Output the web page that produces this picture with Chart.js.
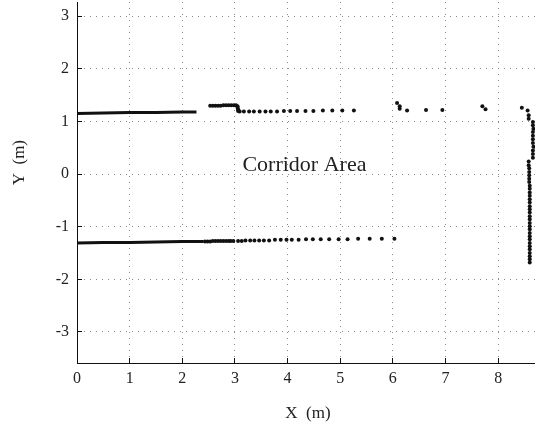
<!DOCTYPE html>
<html>
<head>
<meta charset="utf-8">
<script src="https://cdn.jsdelivr.net/npm/chart.js@4"></script>
<style>
  html, body { margin: 0; padding: 0; background: #fff; }
  #wrap { width: 535px; height: 430px; }
</style>
</head>
<body>
<div id="wrap"><canvas id="scan" width="535" height="430"></canvas></div>
<script>
// tick labels
const xTicks = [0, 1, 2, 3, 4, 5, 6, 7, 8];
const yTicks = [-3, -2, -1, 0, 1, 2, 3];

// upper wall, dense part (drawn as a thick trace)
const topDenseX = [0, 0.5, 1.0, 1.5, 2.0, 2.27];
const topDenseY = [1.15, 1.16, 1.17, 1.17, 1.18, 1.18];

// upper wall, step near x = 3
const topStepX = [2.53, 2.58, 2.63, 2.68, 2.73, 2.78, 2.83, 2.88, 2.93, 2.98, 3.02, 3.05, 3.05, 3.06, 3.06];
const topStepY = [1.30, 1.30, 1.30, 1.30, 1.30, 1.31, 1.31, 1.31, 1.31, 1.31, 1.31, 1.29, 1.26, 1.23, 1.20];

// upper wall, sparse returns
const topSparseX = [3.09, 3.17, 3.27, 3.36, 3.47, 3.58, 3.68, 3.80, 3.93, 4.05, 4.18, 4.34, 4.49, 4.67, 4.85, 5.04, 5.26];
const topSparseY = [1.19, 1.19, 1.19, 1.19, 1.19, 1.19, 1.19, 1.19, 1.20, 1.20, 1.20, 1.20, 1.20, 1.21, 1.21, 1.21, 1.21];

// far returns along the upper side
const topFarX = [6.08, 6.13, 6.13, 6.27, 6.63, 6.94, 7.70, 7.76, 8.45, 8.56, 8.58, 8.58];
const topFarY = [1.35, 1.29, 1.24, 1.21, 1.22, 1.22, 1.29, 1.23, 1.26, 1.21, 1.12, 1.05];

// end wall, upper column
const endUpperX = [8.66, 8.66, 8.67, 8.66, 8.66, 8.66, 8.66, 8.67, 8.66, 8.66, 8.66];
const endUpperY = [0.99, 0.93, 0.86, 0.80, 0.73, 0.66, 0.59, 0.52, 0.45, 0.38, 0.31];

// end wall, lower column
const endLowerX = [8.58, 8.58, 8.59, 8.59, 8.59, 8.59, 8.59, 8.60, 8.60, 8.60, 8.60, 8.60, 8.60, 8.60, 8.60, 8.60,
                   8.60, 8.60, 8.60, 8.60, 8.60, 8.60, 8.60, 8.60, 8.60, 8.60, 8.60, 8.60, 8.60, 8.60, 8.60];
const endLowerY = [0.24, 0.17, 0.11, 0.04, -0.02, -0.09, -0.15, -0.22, -0.28, -0.35, -0.41, -0.48, -0.54, -0.61, -0.67, -0.73,
                   -0.80, -0.86, -0.93, -0.99, -1.05, -1.12, -1.18, -1.24, -1.31, -1.37, -1.43, -1.50, -1.56, -1.62, -1.68];

// lower wall, dense part
const botDenseX = [0, 0.5, 1.0, 1.5, 2.0, 2.4];
const botDenseY = [-1.31, -1.30, -1.30, -1.29, -1.28, -1.28];

// lower wall, sparse returns
const botSparseX = [2.43, 2.48, 2.53, 2.58, 2.63, 2.68, 2.73, 2.78, 2.83, 2.88, 2.92, 2.97, 3.06, 3.13, 3.20, 3.29, 3.37, 3.46,
                    3.55, 3.65, 3.76, 3.87, 3.98, 4.08, 4.21, 4.35, 4.48, 4.63, 4.79, 4.97, 5.14, 5.34, 5.56, 5.79, 6.03];
const botSparseY = [-1.28, -1.28, -1.28, -1.27, -1.27, -1.27, -1.27, -1.27, -1.27, -1.27, -1.27, -1.27, -1.27, -1.27, -1.26, -1.26, -1.26, -1.26,
                    -1.26, -1.26, -1.25, -1.25, -1.25, -1.25, -1.25, -1.24, -1.24, -1.24, -1.24, -1.24, -1.24, -1.23, -1.23, -1.23, -1.23];

const areaLabel = { text: 'Corridor Area', x: 4.32, y: 0.17 };

const serif = "'Liberation Serif', 'Times New Roman', serif";

function pts(xs, ys) {
    return xs.map((x, i) => ({ x: x, y: ys[i] }));
}

function dots(xs, ys) {
    return {
        data: pts(xs, ys),
        pointRadius: 2,
        pointBackgroundColor: '#111',
        pointBorderWidth: 0,
        showLine: false
    };
}

function trace(xs, ys, w) {
    return {
        data: pts(xs, ys),
        pointRadius: 0,
        showLine: true,
        borderColor: '#111',
        borderWidth: w
    };
}

// titles and the area label
const textPlugin = {
    id: 'texts',
    afterDatasetsDraw(chart) {
        const { ctx, chartArea, scales } = chart;
        ctx.save();
        ctx.fillStyle = '#222';
        ctx.textAlign = 'center';
        ctx.textBaseline = 'middle';

        ctx.font = '22px ' + serif;
        ctx.fillText(areaLabel.text, scales.x.getPixelForValue(areaLabel.x), scales.y.getPixelForValue(areaLabel.y));

        ctx.font = '17px ' + serif;
        ctx.fillText('X  (m)', (chartArea.left + chartArea.right) / 2 + 2, chartArea.bottom + 51);

        ctx.translate(20, chartArea.top + (chartArea.bottom - chartArea.top) * 0.445);
        ctx.rotate(-Math.PI / 2);
        ctx.fillText('Y  (m)', 0, 0);
        ctx.restore();
    }
};

// dotted grid, solid ticks pointing into the plot
const gridOpts = {
    color: '#8a8a8a',
    lineWidth: 1,
    drawTicks: true,
    tickLength: -5,
    tickColor: '#111',
    tickWidth: 1,
    tickBorderDash: []
};

new Chart(document.getElementById('scan').getContext('2d'), {
    type: 'scatter',
    data: {
        datasets: [
            trace(topDenseX, topDenseY, 3),
            dots(topStepX, topStepY),
            dots(topSparseX, topSparseY),
            dots(topFarX, topFarY),
            dots(endUpperX, endUpperY),
            dots(endLowerX, endLowerY),
            trace(botDenseX, botDenseY, 3),
            dots(botSparseX, botSparseY)
        ]
    },
    options: {
        responsive: false,
        animation: false,
        layout: { autoPadding: false, padding: { top: 2, right: 0, left: 0, bottom: 0 } },
        plugins: {
            legend: { display: false },
            tooltip: { enabled: false }
        },
        scales: {
            x: {
                type: 'linear',
                min: 0,
                max: 8.7,
                afterBuildTicks: axis => { axis.ticks = xTicks.map(v => ({ value: v })); },
                afterFit: axis => {
                    axis.height = 67;
                    axis.paddingLeft = 0;
                    axis.paddingRight = 0;
                },
                ticks: {
                    color: '#222',
                    padding: 11,
                    maxRotation: 0,
                    font: { family: serif, size: 16 }
                },
                grid: gridOpts,
                border: { display: true, color: '#111', width: 1, dash: [1, 5] }
            },
            y: {
                type: 'linear',
                min: -3.59,
                max: 3.27,
                afterBuildTicks: axis => { axis.ticks = yTicks.map(v => ({ value: v })); },
                afterFit: axis => {
                    axis.width = 77;
                    axis.paddingTop = 0;
                    axis.paddingBottom = 0;
                },
                ticks: {
                    color: '#222',
                    padding: 13,
                    font: { family: serif, size: 16 }
                },
                grid: gridOpts,
                border: { display: true, color: '#111', width: 1, dash: [1, 5] }
            }
        }
    },
    plugins: [textPlugin]
});
</script>
</body>
</html>
